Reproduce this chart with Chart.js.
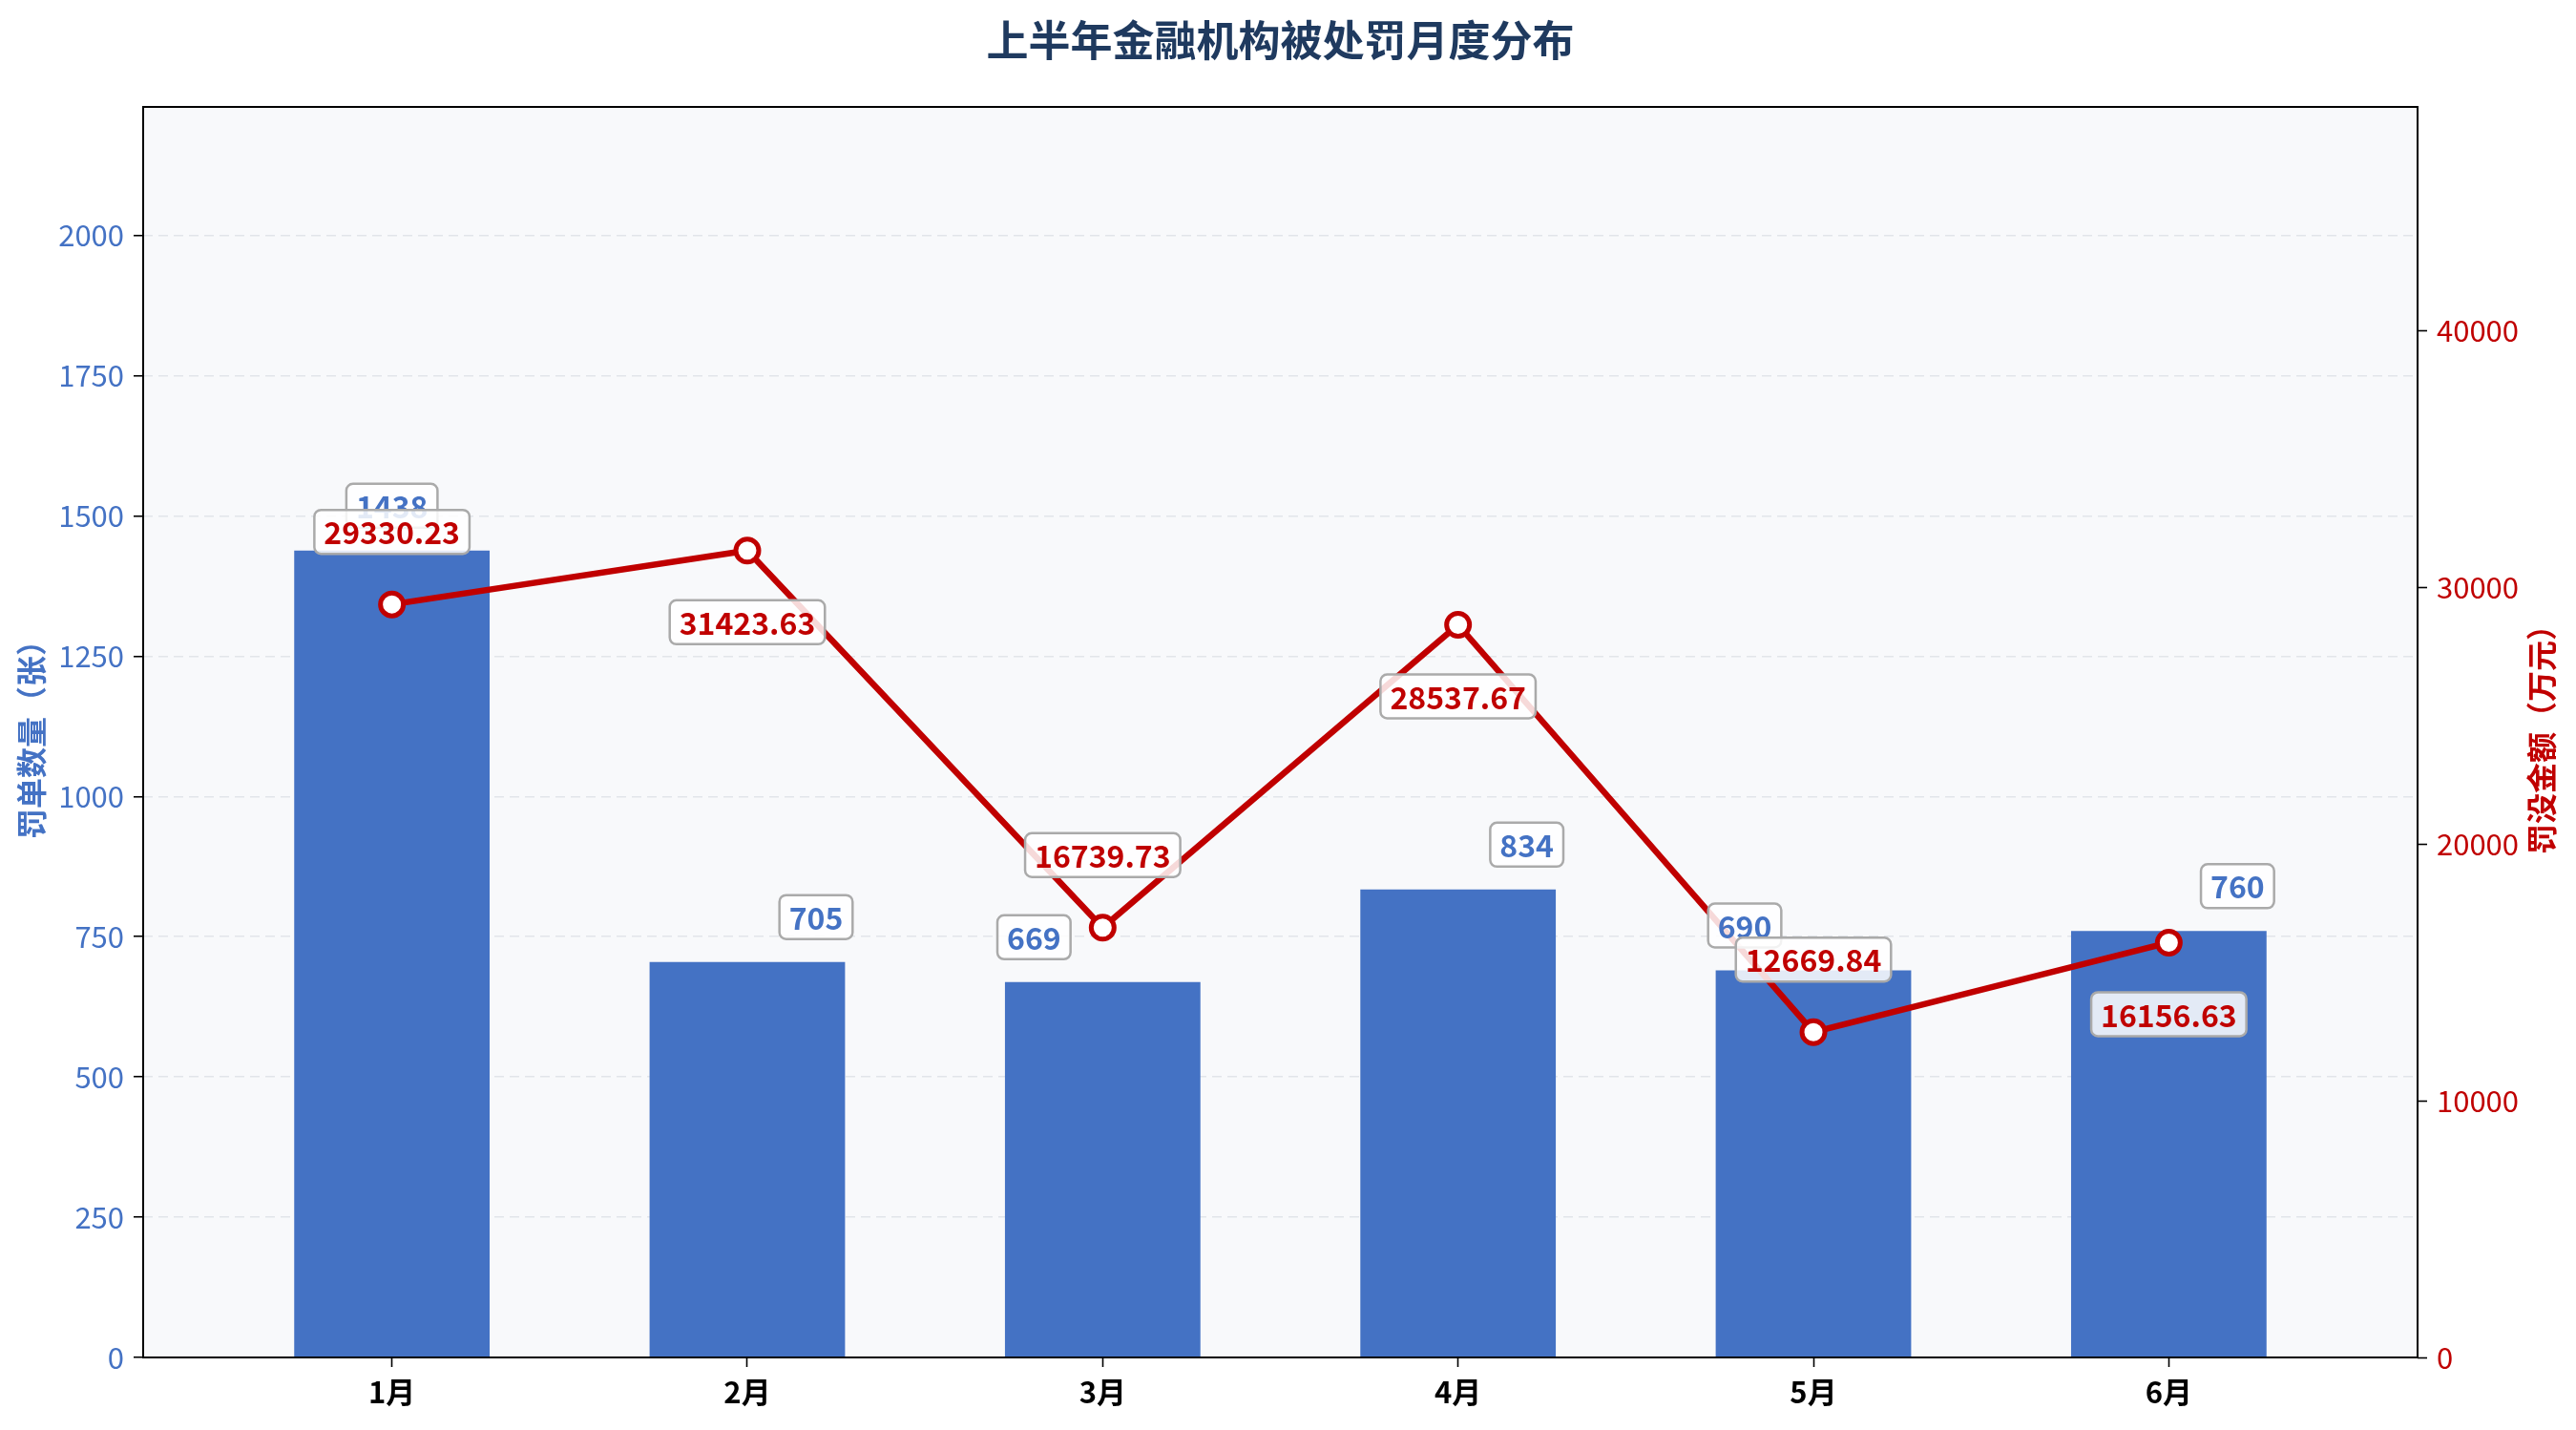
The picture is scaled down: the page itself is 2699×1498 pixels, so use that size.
<!DOCTYPE html>
<html>
<head>
<meta charset="utf-8">
<script src="https://cdn.jsdelivr.net/npm/chart.js@4.4.1/dist/chart.umd.min.js"></script>
<style>
html, body { margin: 0; padding: 0; background: #fff; }
#wrap { width: 2699px; height: 1498px; }
</style>
</head>
<body>
<div id="wrap"><canvas id="penaltyChart" width="2699" height="1498"></canvas></div>
<script>
// 数据
const months = ['1月', '2月', '3月', '4月', '5月', '6月'];
const ticketCounts = [1438, 705, 669, 834, 690, 760];          // 罚单数量（张）
const fineAmounts = [29330.23, 31423.63, 16739.73, 28537.67, 12669.84, 16156.63]; // 罚没金额（万元）
const countTicks = [0, 250, 500, 750, 1000, 1250, 1500, 1750, 2000];
const amountTicks = [0, 10000, 20000, 30000, 40000];

const FONT = '"Noto Sans CJK SC", "Noto Sans", sans-serif';
const BLUE = '#4472C4';
const RED = '#C00000';
const NAVY = '#1F3A5F';

// 标签偏移（像素）
const barLabelShift = [0, 72, -72, 72, -72, 72];

function labelBox(ctx, text, cx, cy, color) {
    ctx.save();
    ctx.font = `bold 32px ${FONT}`;
    const w = ctx.measureText(text).width + 20;
    const h = 46;
    ctx.beginPath();
    ctx.roundRect(cx - w / 2, cy - h / 2, w, h, 7);
    ctx.fillStyle = 'rgba(255,255,255,0.85)';
    ctx.fill();
    ctx.lineWidth = 2.5;
    ctx.strokeStyle = '#AAAAAA';
    ctx.stroke();
    ctx.fillStyle = color;
    ctx.textAlign = 'center';
    ctx.textBaseline = 'middle';
    ctx.fillText(text, cx, cy + 1);
    ctx.restore();
}

const decorPlugin = {
    id: 'decor',
    beforeDraw(chart) {
        const { ctx, chartArea: a } = chart;
        ctx.save();
        ctx.fillStyle = '#F8F9FB';
        ctx.fillRect(a.left, a.top, a.width, a.height);
        ctx.restore();
    },
    afterDatasetsDraw(chart) {
        const ctx = chart.ctx;
        const bars = chart.getDatasetMeta(0).data;
        const pts = chart.getDatasetMeta(1).data;
        bars.forEach((b, i) => {
            labelBox(ctx, String(ticketCounts[i]), b.x + barLabelShift[i], b.y - 47, BLUE);
        });
        pts.forEach((p, i) => {
            const dy = i % 2 === 0 ? -76 : 75;
            labelBox(ctx, fineAmounts[i].toFixed(2), p.x, p.y + dy, RED);
        });
    },
    afterDraw(chart) {
        const { ctx, chartArea: a } = chart;
        ctx.save();
        ctx.strokeStyle = '#000';
        ctx.lineWidth = 2;
        ctx.strokeRect(a.left, a.top, a.width, a.height);

        ctx.fillStyle = NAVY;
        ctx.font = `bold 44px ${FONT}`;
        ctx.textAlign = 'center';
        ctx.textBaseline = 'middle';
        ctx.fillText('上半年金融机构被处罚月度分布', (a.left + a.right) / 2, 42);

        const midY = (a.top + a.bottom) / 2;
        ctx.font = `bold 32px ${FONT}`;
        ctx.save();
        ctx.translate(33, midY);
        ctx.rotate(-Math.PI / 2);
        ctx.fillStyle = BLUE;
        ctx.fillText('罚单数量（张）', 0, 0);
        ctx.restore();
        ctx.save();
        ctx.translate(2663, midY);
        ctx.rotate(-Math.PI / 2);
        ctx.fillStyle = RED;
        ctx.fillText('罚没金额（万元）', 0, 0);
        ctx.restore();
        ctx.restore();
    }
};

const ctx = document.getElementById('penaltyChart').getContext('2d');
new Chart(ctx, {
    type: 'bar',
    data: {
        datasets: [
            {
                type: 'bar',
                label: '罚单数量',
                data: ticketCounts.map((v, i) => ({ x: i, y: v })),
                backgroundColor: BLUE,
                borderWidth: 0,
                categoryPercentage: 1.0,
                barPercentage: 0.55,
                yAxisID: 'y',
                order: 1
            },
            {
                type: 'line',
                label: '罚没金额',
                data: fineAmounts.map((v, i) => ({ x: i, y: v })),
                borderColor: RED,
                borderWidth: 6.5,
                pointRadius: 12,
                pointBorderWidth: 5,
                pointBackgroundColor: '#FFFFFF',
                pointBorderColor: RED,
                tension: 0,
                yAxisID: 'y1',
                order: 0
            }
        ]
    },
    options: {
        responsive: false,
        animation: false,
        devicePixelRatio: 1,
        layout: { padding: { top: 112, left: 0, right: 0, bottom: 0 } },
        plugins: {
            legend: { display: false },
            tooltip: { enabled: false },
            title: { display: false }
        },
        scales: {
            x: {
                type: 'linear',
                min: -0.7,
                max: 5.7,
                offset: false,
                afterBuildTicks: s => { s.ticks = months.map((m, i) => ({ value: i })); },
                afterFit: s => { s.height = 76; },
                grid: { offset: false, drawOnChartArea: false, drawTicks: true, tickLength: 10, tickColor: '#000', tickWidth: 1.6 },
                border: { display: false },
                ticks: {
                    callback: v => months[v],
                    color: '#000',
                    font: { family: FONT, size: 31, weight: 'bold' },
                    padding: 8,
                    maxRotation: 0,
                    autoSkip: false
                }
            },
            y: {
                position: 'left',
                min: 0,
                max: Math.max(...ticketCounts) * 1.55,
                afterBuildTicks: s => { s.ticks = countTicks.map(v => ({ value: v })); },
                afterFit: s => { s.width = 150; },
                grid: { color: '#E2E5EA', lineWidth: 1.5, tickColor: '#000', tickWidth: 1.6, tickLength: 10 },
                border: { display: false, dash: [10, 6] },
                ticks: { color: BLUE, font: { family: FONT, size: 31 }, padding: 10, callback: v => String(v) }
            },
            y1: {
                position: 'right',
                min: 0,
                max: Math.max(...fineAmounts) * 1.55,
                afterBuildTicks: s => { s.ticks = amountTicks.map(v => ({ value: v })); },
                afterFit: s => { s.width = 166; },
                grid: { drawOnChartArea: false, tickColor: '#000', tickWidth: 1.6, tickLength: 10 },
                border: { display: false },
                ticks: { color: RED, font: { family: FONT, size: 31 }, padding: 10, callback: v => String(v) }
            }
        }
    },
    plugins: [decorPlugin]
});
</script>
</body>
</html>
